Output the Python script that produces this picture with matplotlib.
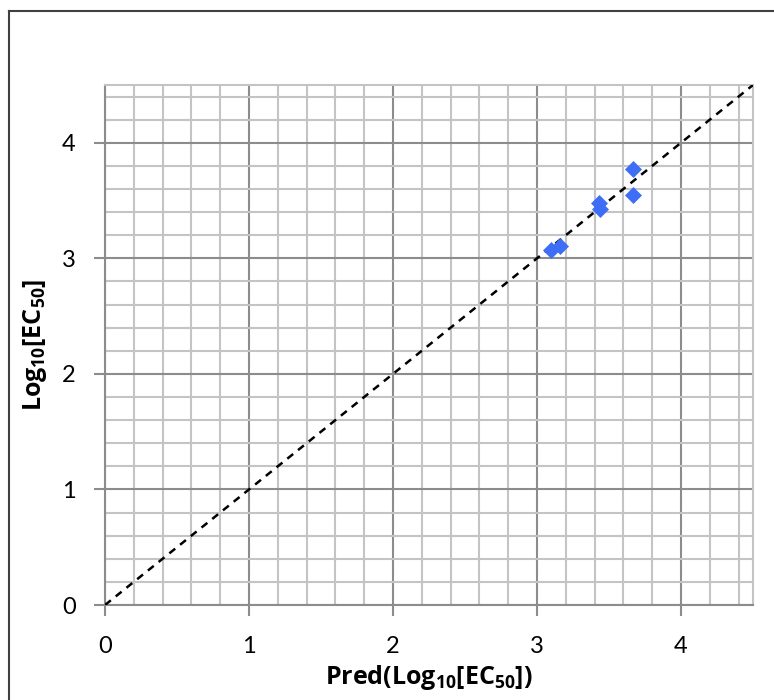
import matplotlib
matplotlib.use('Agg')
import matplotlib.pyplot as plt
from matplotlib.lines import Line2D
from matplotlib.ticker import MultipleLocator

# Data
pred = [3.10, 3.16, 3.43, 3.44, 3.67, 3.67]
obs = [3.07, 3.11, 3.48, 3.43, 3.77, 3.55]
ident = [0, 4.5]

plt.rcParams['font.family'] = ['Lato', 'DejaVu Sans']
plt.rcParams['mathtext.fontset'] = 'custom'
plt.rcParams['mathtext.bf'] = 'Open Sans:bold'
plt.rcParams['mathtext.rm'] = 'Open Sans'

fig = plt.figure(figsize=(7.74, 7.0), dpi=100)
ax = fig.add_axes([105 / 774, 95 / 700, 648 / 774, 520 / 700])

# Grid
ax.xaxis.set_major_locator(MultipleLocator(1))
ax.yaxis.set_major_locator(MultipleLocator(1))
ax.xaxis.set_minor_locator(MultipleLocator(0.2))
ax.yaxis.set_minor_locator(MultipleLocator(0.2))
ax.grid(which='minor', color='#c4c4c4', linewidth=1.5)
ax.grid(which='major', color='#8c8c8c', linewidth=1.5)
ax.set_axisbelow(True)

ax.plot(ident, ident, linestyle=(0, (3, 2.5)), color='black', linewidth=1.8, zorder=3)
ax.scatter(pred, obs, marker='D', s=75, color='#3d6ef5', zorder=4, linewidths=0)

ax.set_xlim(0, 4.5)
ax.set_ylim(0, 4.5)

for s in ax.spines.values():
    s.set_color('#c4c4c4')
    s.set_linewidth(1.5)
ax.spines['left'].set_color('#8c8c8c')
ax.spines['bottom'].set_color('#8c8c8c')

ax.tick_params(which='major', length=8, width=1.5, color='#8c8c8c', labelsize=17)
ax.tick_params(axis='x', which='major', pad=14)
ax.tick_params(axis='y', which='major', pad=13)
ax.tick_params(which='minor', length=0)

ax.set_xlabel(r'$\mathbf{Pred(Log_{10}[EC_{50}])}$', fontsize=18, labelpad=5)
ax.set_ylabel(r'$\mathbf{Log_{10}[EC_{50}]}$', fontsize=18, labelpad=9)

# Outer frame (left and top edges visible)
fig.add_artist(Line2D([9 / 774, 9 / 774], [0, 1 - 11 / 700], transform=fig.transFigure,
                      color='#404040', linewidth=1.5))
fig.add_artist(Line2D([9 / 774, 1], [1 - 11 / 700, 1 - 11 / 700], transform=fig.transFigure,
                      color='#404040', linewidth=1.5))

fig.savefig('out.png', dpi=100)
